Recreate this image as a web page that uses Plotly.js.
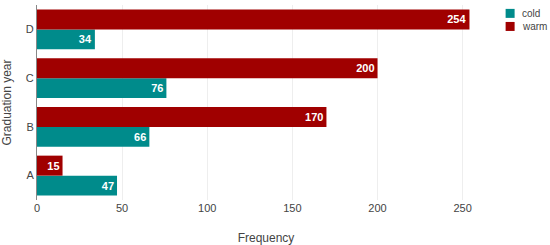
<!DOCTYPE html>
<html>
<head>
<meta charset="utf-8">
<script src="https://cdn.plot.ly/plotly-3.0.1.min.js"></script>
<style>
	html, body { margin: 0; padding: 0; background: #fff; }
	#chart { width: 550px; height: 245px; }
</style>
</head>
<body>
<div id="chart"></div>
<script>
const years = ['A', 'B', 'C', 'D']
const cold = [47, 66, 76, 34]
const warm = [15, 170, 200, 254]
const seriesNames = ['cold', 'warm']
const seriesColors = ['#008b8b', '#a00000']

// compact legend drawn as shapes + annotations (plotly's own legend rows are too tall here)
function legendItems() {
	const shapes = []
	const annotations = []
	seriesNames.forEach(function (name, i) {
		const yPos = 0.957 - i * 0.067
		shapes.push({
			type: 'rect',
			xref: 'paper',
			yref: 'paper',
			xsizemode: 'pixel',
			ysizemode: 'pixel',
			xanchor: 1.033,
			yanchor: yPos,
			x0: -4.5,
			x1: 4.5,
			y0: -4.5,
			y1: 4.5,
			fillcolor: seriesColors[i],
			line: { width: 0 },
		})
		annotations.push({
			xref: 'paper',
			yref: 'paper',
			x: 1.054,
			y: yPos,
			xanchor: 'left',
			yanchor: 'middle',
			text: name,
			showarrow: false,
			font: { size: 10, color: '#444' },
		})
	})
	return { shapes: shapes, annotations: annotations }
}

function createChart() {
	const coldTrace = {
		y: years,
		x: cold,
		type: 'bar',
		orientation: 'h',
		name: seriesNames[0],
		texttemplate: '<b>%{x}</b>',
		textposition: 'inside',
		insidetextanchor: 'end',
		textfont: { color: '#ffffff', size: 11, family: 'Arial, Liberation Sans, sans-serif' },
		marker: { color: seriesColors[0] },
	}

	const warmTrace = {
		y: years,
		x: warm,
		type: 'bar',
		orientation: 'h',
		name: seriesNames[1],
		texttemplate: '<b>%{x}</b>',
		textposition: 'inside',
		insidetextanchor: 'end',
		textfont: { color: '#ffffff', size: 11, family: 'Arial, Liberation Sans, sans-serif' },
		marker: { color: seriesColors[1] },
	}

	const legend = legendItems()

	const layout = {
		barmode: 'group',
		bargap: 0.18,
		bargroupgap: 0,
		font: { family: 'Arial, Liberation Sans, sans-serif', color: '#444', size: 11 },
		paper_bgcolor: '#ffffff',
		plot_bgcolor: '#ffffff',
		showlegend: false,
		shapes: legend.shapes,
		annotations: legend.annotations,
		xaxis: {
			title: { text: 'Frequency', font: { size: 12 }, standoff: 20 },
			range: [0, 269],
			dtick: 50,
			showgrid: true,
			gridcolor: '#eeeeee',
			zeroline: false,
			showline: false,
			ticks: '',
		},
		yaxis: {
			title: { text: 'Graduation year', font: { size: 12 } },
			showgrid: false,
			showline: true,
			linecolor: '#888888',
			linewidth: 1,
			ticks: '',
		},
		margin: { l: 37, r: 55, t: 5, b: 45, autoexpand: false },
	}

	Plotly.newPlot('chart', [coldTrace, warmTrace], layout, { displayModeBar: false })
}

window.onload = createChart
</script>
</body>
</html>
